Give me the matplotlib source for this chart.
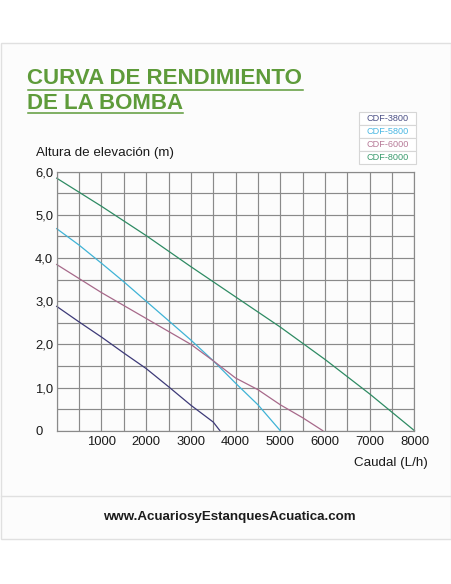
import numpy as np
import matplotlib.pyplot as plt
from matplotlib.patches import Rectangle
from matplotlib.lines import Line2D

plt.rcParams['font.family'] = ['Liberation Sans', 'DejaVu Sans']

# Datos de las curvas (caudal L/h, altura m)
models = ['CDF-3800', 'CDF-5800', 'CDF-6000', 'CDF-8000']

q_3800 = [0, 500, 1000, 1500, 2000, 2500, 3000, 3500, 3650]
h_3800 = [2.88, 2.52, 2.17, 1.80, 1.44, 1.02, 0.59, 0.20, 0.0]

q_5800 = [0, 500, 1000, 1500, 2000, 2500, 3000, 3500, 4000, 4500, 5000]
h_5800 = [4.68, 4.30, 3.88, 3.45, 3.00, 2.55, 2.10, 1.62, 1.10, 0.60, 0.0]

q_6000 = [0, 1000, 2000, 3000, 3500, 4000, 4500, 5000, 5500, 5950]
h_6000 = [3.85, 3.20, 2.60, 2.00, 1.62, 1.22, 0.95, 0.60, 0.30, 0.0]

q_8000 = [0, 1000, 2000, 3000, 4000, 5000, 6000, 7000, 8000]
h_8000 = [5.85, 5.20, 4.52, 3.80, 3.10, 2.40, 1.65, 0.85, 0.0]

x_ticks = [1000, 2000, 3000, 4000, 5000, 6000, 7000, 8000]
y_ticks = [0, 1, 2, 3, 4, 5, 6]
y_labels = ['0', '1,0', '2,0', '3,0', '4,0', '5,0', '6,0']

line_colors = ['#3d3a78', '#3fb3d6', '#a7698a', '#2e8b63']
text_colors = ['#4b4f85', '#4bb8e3', '#b77a98', '#3b9b6e']
title_green = '#5e9b3a'
grid_col = '#8a8a8a'

W, H = 452, 584
fig = plt.figure(figsize=(W / 100, H / 100), dpi=100)
fig.patch.set_facecolor('white')


def fx(px):
    return px / W


def fy(py):
    return 1 - py / H


# marco exterior y separador del pie
fig.patches.append(Rectangle((fx(0.5), fy(539)), fx(450.5), (539 - 43) / H,
                             transform=fig.transFigure, fc='#fcfcfc',
                             ec='#e0e0e0', lw=1, zorder=-5))
fig.lines.append(Line2D([fx(0.5), fx(451)], [fy(495.5), fy(495.5)],
                        transform=fig.transFigure, color='#e0e0e0', lw=1,
                        zorder=-4))

# titulo con subrayado
fig.text(fx(27), fy(79), 'CURVA DE RENDIMIENTO', color=title_green,
         fontsize=16, fontweight='bold', va='center', ha='left')
fig.text(fx(27), fy(103.5), 'DE LA BOMBA', color=title_green,
         fontsize=16, fontweight='bold', va='center', ha='left')
fig.lines.append(Line2D([fx(28), fx(303)], [fy(90), fy(90)],
                        transform=fig.transFigure, color=title_green, lw=1.1))
fig.lines.append(Line2D([fx(28), fx(183)], [fy(113.3), fy(113.3)],
                        transform=fig.transFigure, color=title_green, lw=1.1))

# grafico principal
ax = fig.add_axes([fx(56.7), fy(430.7), fx(414.5 - 56.7), (430.7 - 171.7) / H])
ax.set_facecolor('none')
ax.set_xlim(0, 8000)
ax.set_ylim(0, 6)
ax.set_xticks(x_ticks)
ax.set_xticks(np.arange(0, 8001, 500), minor=True)
ax.set_yticks(y_ticks)
ax.set_yticklabels(y_labels)
ax.set_yticks(np.arange(0, 6.01, 0.5), minor=True)
ax.grid(which='both', color=grid_col, lw=0.85)
ax.set_axisbelow(True)
for s in ax.spines.values():
    s.set_color(grid_col)
    s.set_linewidth(0.85)
ax.tick_params(which='both', length=0, labelsize=9.4, colors='#1a1a1a')
ax.tick_params(axis='x', pad=4)
ax.tick_params(axis='y', pad=15.6)
for lab in ax.get_yticklabels():
    lab.set_horizontalalignment('left')

for q, h, c in zip([q_3800, q_5800, q_6000, q_8000],
                   [h_3800, h_5800, h_6000, h_8000], line_colors):
    ax.plot(q, h, color=c, lw=0.9, clip_on=False)

fig.text(fx(36), fy(153), 'Altura de elevación (m)', fontsize=9.6,
         color='#1a1a1a', ha='left', va='center')
fig.text(fx(428), fy(463), 'Caudal (L/h)', fontsize=9.6,
         color='#1a1a1a', ha='right', va='center')

# leyenda en forma de tabla
lax = fig.add_axes([fx(359), fy(164.3), fx(416 - 359), (164.3 - 112.3) / H])
lax.axis('off')
tab = lax.table(cellText=[[m] for m in models], cellLoc='center',
                bbox=[0, 0, 1, 1])
tab.auto_set_font_size(False)
for i, c in enumerate(text_colors):
    cell = tab[i, 0]
    cell.set_edgecolor('#d6d6d6')
    cell.set_linewidth(0.8)
    cell.set_facecolor('white')
    cell.get_text().set_color(c)
    cell.get_text().set_fontsize(6.6)

fig.text(fx(229), fy(517), 'www.AcuariosyEstanquesAcuatica.com',
         fontsize=9.6, fontweight='bold', color='#1c1c1c',
         ha='center', va='center')

fig.savefig('out.png', dpi=100)
